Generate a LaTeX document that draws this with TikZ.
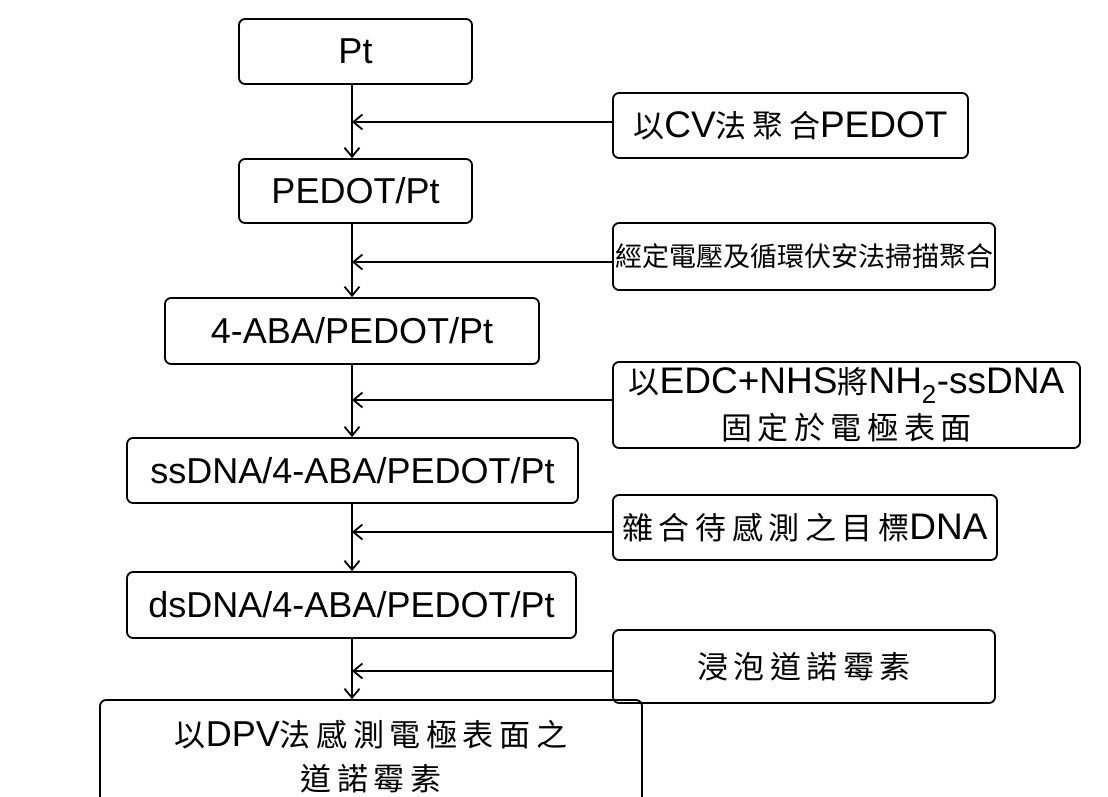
\documentclass[tikz,border=0pt]{standalone}
\usepackage{fontspec}
\setmainfont{Liberation Sans}
\newfontfamily\cjk{Noto Sans CJK TC}
\newfontfamily\cjkw{Noto Sans CJK TC}[LetterSpace=18]
\usetikzlibrary{arrows.meta}
\newcommand\lat{\fontsize{36}{44}\selectfont}
\newcommand\lats{\fontsize{37}{46}\selectfont}
\newcommand\ck[1]{{\cjk\fontsize{31}{44}\selectfont #1}}
\newcommand\ckn[1]{{\cjk\fontsize{27}{44}\selectfont #1}}
\newcommand\ckw[1]{{\cjkw\fontsize{31}{44}\selectfont #1}}
\begin{document}
\begin{tikzpicture}[x=1pt,y=-1pt,
  box/.style={draw, line width=1.8pt, rounded corners=6pt, inner sep=0pt, align=center, font=\lat},
  sidebox/.style={box, font=\lats},
  arr/.style={line width=1.8pt, -{Straight Barb[length=9pt,width=15pt,line width=1.8pt]}}
]
\useasboundingbox (0,0) rectangle (1108,797);
% main column
\node[box, minimum width=233pt, minimum height=65pt] (n1) at (355.5,51.5) {Pt};
\node[box, minimum width=233pt, minimum height=64pt] (n2) at (355.5,191) {PEDOT/Pt};
\node[box, minimum width=374pt, minimum height=66pt] (n3) at (352,331) {4-ABA/PEDOT/Pt};
\node[box, minimum width=451pt, minimum height=65pt] (n4) at (352.5,470.5) {ssDNA/4-ABA/PEDOT/Pt};
\node[box, minimum width=449pt, minimum height=66pt] (n5) at (351.5,605) {dsDNA/4-ABA/PEDOT/Pt};
\node[box, minimum width=542pt, minimum height=114pt] (n6) at (371,757) {\ck{以}DPV\ckw{法感測電極表面之}\\\ckw{道諾霉素}};
% side boxes
\node[sidebox, minimum width=355pt, minimum height=65pt] (r1) at (790.5,125.5) {\ck{以}CV\ckw{法聚合}PEDOT};
\node[sidebox, minimum width=382pt, minimum height=67pt] (r2) at (804,256.5) {\ckn{經定電壓及循環伏安法掃描聚合}};
\node[sidebox, minimum width=467pt, minimum height=86pt] (r3) at (846.5,405) {\ck{以}EDC+NHS\ck{將}NH\textsubscript{2}-ssDNA\\\ckw{固定於電極表面}};
\node[sidebox, minimum width=384pt, minimum height=65pt] (r4) at (805,527.5) {\ckw{雜合待感測之目標}DNA};
\node[sidebox, minimum width=382pt, minimum height=73pt] (r5) at (804,666.5) {\ckw{浸泡道諾霉素}};
% merge points on the main line
\coordinate (m1) at (352,122);
\coordinate (m2) at (352,262);
\coordinate (m3) at (352,400);
\coordinate (m4) at (352,532);
\coordinate (m5) at (352,671);
% vertical arrows
\draw[arr] (n1.south -| m1) -- (n2.north -| m1);
\draw[arr] (n2.south -| m2) -- (n3.north -| m2);
\draw[arr] (n3.south -| m3) -- (n4.north -| m3);
\draw[arr] (n4.south -| m4) -- (n5.north -| m4);
\draw[arr] (n5.south -| m5) -- (n6.north -| m5);
% side arrows
\draw[arr] (r1.west |- m1) -- (m1);
\draw[arr] (r2.west |- m2) -- (m2);
\draw[arr] (r3.west |- m3) -- (m3);
\draw[arr] (r4.west |- m4) -- (m4);
\draw[arr] (r5.west |- m5) -- (m5);
\end{tikzpicture}
\end{document}
